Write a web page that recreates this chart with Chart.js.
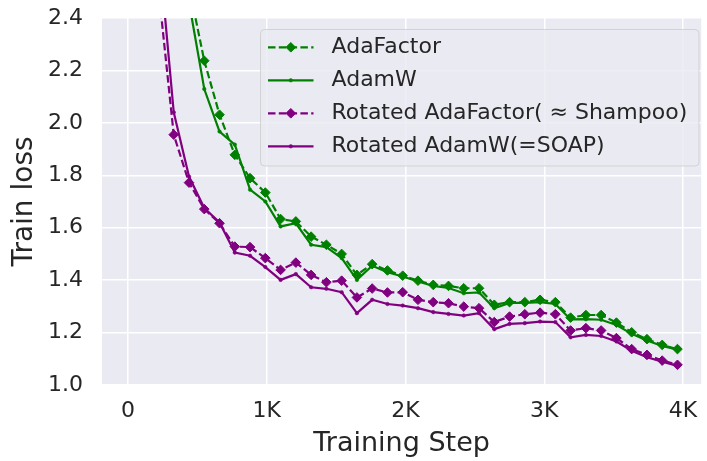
<!DOCTYPE html>
<html>
<head>
<meta charset="utf-8">
<script src="https://cdn.jsdelivr.net/npm/chart.js@4/dist/chart.umd.min.js"></script>
<style>
  html, body { margin: 0; padding: 0; background: #ffffff; }
  #wrap { width: 707px; height: 461px; position: relative; }
</style>
</head>
<body>
<div id="wrap"><canvas id="lossChart" width="707" height="461"></canvas></div>
<script>
// Logged training steps
const steps = [220, 330, 440, 550, 660, 770, 880, 990, 1100, 1210, 1320, 1430, 1540, 1650,
  1760, 1870, 1980, 2090, 2200, 2310, 2420, 2530, 2640, 2750, 2860, 2970, 3080, 3190,
  3300, 3410, 3520, 3630, 3740, 3850, 3960];

// Train loss per optimizer (null = not logged in view)
const adaFactorLoss = [null, null, 2.52, 2.237, 2.031, 1.878, 1.789, 1.734, 1.633, 1.624,
  1.566, 1.535, 1.500, 1.420, 1.461, 1.437, 1.417, 1.398, 1.382, 1.378, 1.369, 1.369,
  1.306, 1.316, 1.316, 1.325, 1.316, 1.257, 1.267, 1.267, 1.238, 1.201, 1.175, 1.153, 1.137];

const adamWLoss = [null, null, 2.46, 2.129, 1.967, 1.917, 1.745, 1.700, 1.605, 1.617,
  1.535, 1.526, 1.484, 1.401, 1.455, 1.430, 1.414, 1.395, 1.378, 1.370, 1.350, 1.353,
  1.293, 1.313, 1.313, 1.316, 1.309, 1.250, 1.251, 1.249, 1.229, 1.195, 1.170, 1.149, 1.135];

const rotatedAdaFactorLoss = [2.51, 1.955, 1.772, 1.671, 1.617, 1.528, 1.526, 1.484, 1.439,
  1.467, 1.420, 1.392, 1.398, 1.334, 1.368, 1.353, 1.354, 1.325, 1.316, 1.312, 1.299, 1.293,
  1.240, 1.261, 1.270, 1.276, 1.270, 1.208, 1.217, 1.208, 1.179, 1.137, 1.115, 1.093, 1.077];

const rotatedAdamWLoss = [2.68, 2.04, 1.795, 1.675, 1.620, 1.505, 1.493, 1.450, 1.401,
  1.423, 1.373, 1.367, 1.354, 1.274, 1.325, 1.309, 1.303, 1.293, 1.278, 1.271, 1.265, 1.274,
  1.213, 1.233, 1.236, 1.242, 1.240, 1.182, 1.191, 1.187, 1.166, 1.131, 1.106, 1.089, 1.073];

const seriesLabels = ['AdaFactor', 'AdamW', 'Rotated AdaFactor( \u2248 Shampoo)', 'Rotated AdamW(=SOAP)'];

// Axis ticks
const xTicks = [0, 1000, 2000, 3000, 4000];
const xTickLabels = ['0', '1K', '2K', '3K', '4K'];
const yTicks = [1.0, 1.2, 1.4, 1.6, 1.8, 2.0, 2.2, 2.4];
const yTickLabels = ['1.0', '1.2', '1.4', '1.6', '1.8', '2.0', '2.2', '2.4'];

const GREEN = '#008000';
const PURPLE = '#800080';
const TEXT = '#262626';
const FONT = '"DejaVu Sans", "Liberation Sans", sans-serif';

function points(values) {
  return steps.map((s, i) => ({ x: s, y: values[i] }));
}

function dashedSeries(label, values, color, order) {
  return {
    label, data: points(values), order,
    borderColor: color, backgroundColor: color,
    borderWidth: 2.2, borderDash: [7.5, 3.3],
    pointStyle: 'rectRot', pointRadius: 4.8, pointBorderWidth: 1,
    pointBackgroundColor: color, pointBorderColor: color,
    tension: 0, clip: 0, spanGaps: false
  };
}

function solidSeries(label, values, color, order) {
  return {
    label, data: points(values), order,
    borderColor: color, backgroundColor: color,
    borderWidth: 2.2, borderDash: [],
    pointStyle: 'circle', pointRadius: 1.8, pointBorderWidth: 0.5,
    pointBackgroundColor: color, pointBorderColor: color,
    tension: 0, clip: 0, spanGaps: false
  };
}

// Axes face colour behind the grid
const plotBackground = {
  id: 'plotBackground',
  beforeDraw(chart) {
    const { ctx, chartArea: a } = chart;
    ctx.save();
    ctx.fillStyle = '#EAEAF2';
    ctx.fillRect(a.left, a.top, a.right - a.left, a.bottom - a.top);
    ctx.restore();
  }
};

// Framed legend with line + marker samples, drawn over the data
const boxLegend = {
  id: 'boxLegend',
  afterDatasetsDraw(chart) {
    const ctx = chart.ctx;
    const bx = 260.5, by = 29.5, bw = 438.5, bh = 136.5, r = 4;
    ctx.save();
    ctx.beginPath();
    ctx.moveTo(bx + r, by);
    ctx.lineTo(bx + bw - r, by);
    ctx.quadraticCurveTo(bx + bw, by, bx + bw, by + r);
    ctx.lineTo(bx + bw, by + bh - r);
    ctx.quadraticCurveTo(bx + bw, by + bh, bx + bw - r, by + bh);
    ctx.lineTo(bx + r, by + bh);
    ctx.quadraticCurveTo(bx, by + bh, bx, by + bh - r);
    ctx.lineTo(bx, by + r);
    ctx.quadraticCurveTo(bx, by, bx + r, by);
    ctx.closePath();
    ctx.fillStyle = 'rgba(234,234,242,0.8)';
    ctx.fill();
    ctx.lineWidth = 1;
    ctx.strokeStyle = 'rgba(204,204,204,0.8)';
    ctx.stroke();

    chart.data.datasets.forEach((ds, i) => {
      const y = 47.3 + i * 33;
      ctx.setLineDash(ds.borderDash || []);
      ctx.lineWidth = ds.borderWidth;
      ctx.strokeStyle = ds.borderColor;
      ctx.beginPath();
      ctx.moveTo(268, y);
      ctx.lineTo(313.5, y);
      ctx.stroke();
      ctx.setLineDash([]);
      ctx.fillStyle = ds.pointBackgroundColor;
      ctx.strokeStyle = ds.pointBorderColor;
      ctx.lineWidth = ds.pointBorderWidth;
      Chart.helpers.drawPoint(ctx, {
        pointStyle: ds.pointStyle, rotation: 0,
        radius: ds.pointRadius, borderWidth: ds.pointBorderWidth
      }, 290.8, y);
      ctx.fillStyle = TEXT;
      ctx.font = '22px ' + FONT;
      ctx.textBaseline = 'middle';
      ctx.textAlign = 'left';
      ctx.fillText(ds.label, 331.5, y);
    });
    ctx.restore();
  }
};

new Chart(document.getElementById('lossChart'), {
  type: 'line',
  data: {
    datasets: [
      dashedSeries(seriesLabels[0], adaFactorLoss, GREEN, 4),
      solidSeries(seriesLabels[1], adamWLoss, GREEN, 3),
      dashedSeries(seriesLabels[2], rotatedAdaFactorLoss, PURPLE, 2),
      solidSeries(seriesLabels[3], rotatedAdamWLoss, PURPLE, 1)
    ]
  },
  options: {
    responsive: false,
    animation: false,
    devicePixelRatio: 1,
    layout: { padding: { top: 18, left: 0, right: 0, bottom: 0 } },
    plugins: { legend: { display: false }, tooltip: { enabled: false } },
    scales: {
      x: {
        type: 'linear',
        min: -187, max: 4131,
        afterBuildTicks(scale) { scale.ticks = xTicks.map(v => ({ value: v })); },
        afterFit(scale) { scale.height = 76; scale.paddingLeft = 0; scale.paddingRight = 0; },
        grid: { color: '#ffffff', lineWidth: 1.5, drawTicks: false },
        border: { display: false },
        ticks: {
          autoSkip: false, maxRotation: 0, padding: 13, color: TEXT,
          font: { family: FONT, size: 22 },
          callback: (v) => xTickLabels[xTicks.indexOf(v)]
        },
        title: {
          display: true, text: 'Training Step', color: TEXT,
          font: { family: FONT, size: 27 }, padding: { top: 0, bottom: 1 }
        }
      },
      y: {
        min: 1.0, max: 2.4,
        afterBuildTicks(scale) { scale.ticks = yTicks.map(v => ({ value: v })); },
        afterFit(scale) { scale.width = 102; scale.paddingTop = 0; scale.paddingBottom = 0; },
        grid: { color: '#ffffff', lineWidth: 1.5, drawTicks: false },
        border: { display: false },
        ticks: {
          autoSkip: false, padding: 19, color: TEXT,
          font: { family: FONT, size: 22 },
          callback: (v) => yTickLabels[yTicks.indexOf(v)]
        },
        title: {
          display: true, text: 'Train loss', color: TEXT,
          font: { family: FONT, size: 28 }, padding: { top: 8, bottom: 0 }
        }
      }
    }
  },
  plugins: [plotBackground, boxLegend]
});
</script>
</body>
</html>
